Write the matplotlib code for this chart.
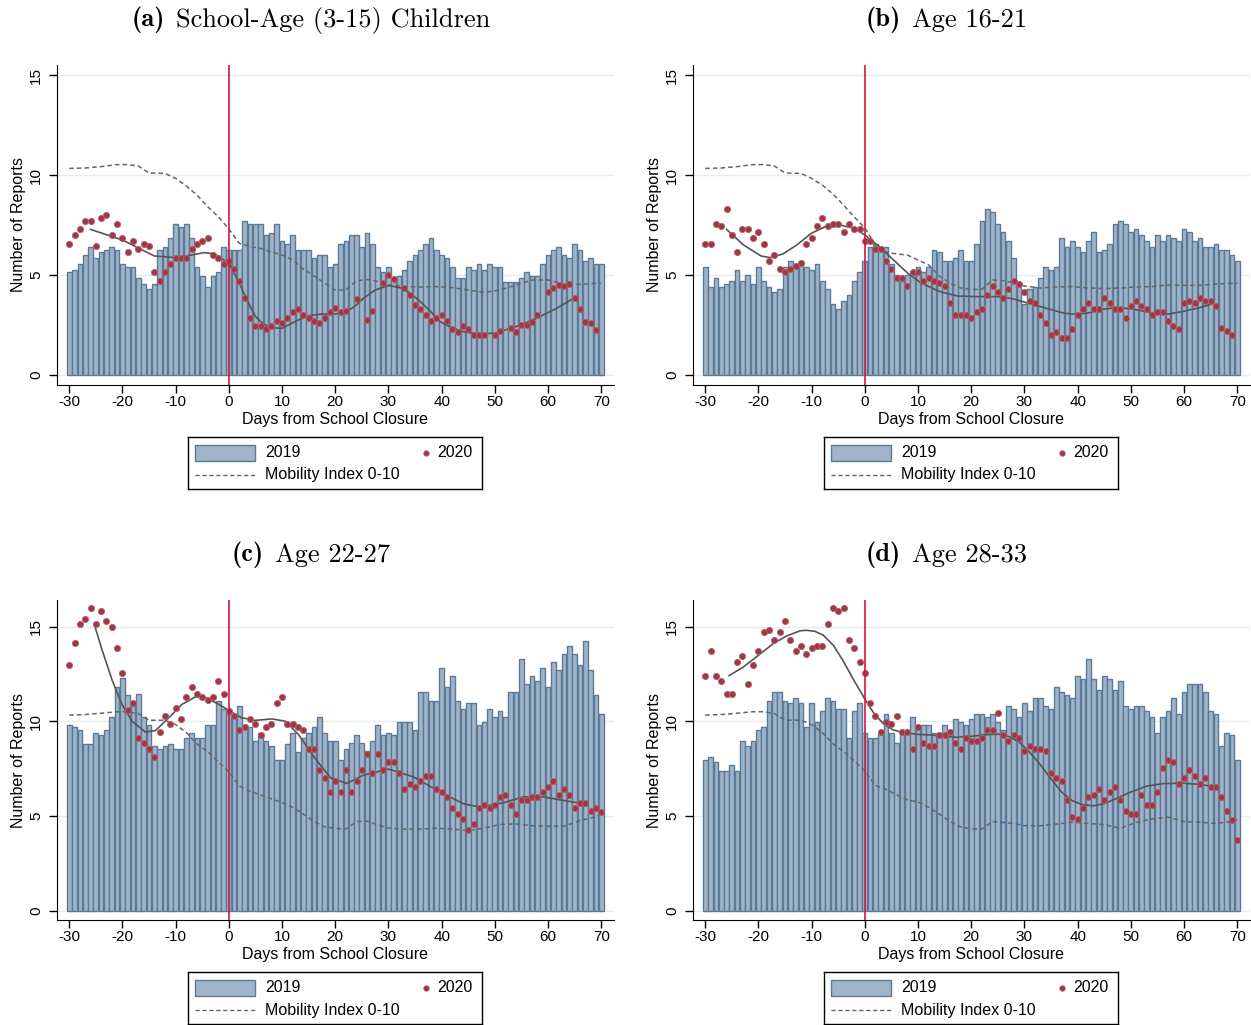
"""Reports by age group around school closure: 2019 bars, 2020 dots, smoothed 2020, mobility index."""
import matplotlib
matplotlib.use("Agg")
import matplotlib.pyplot as plt
import numpy as np
from matplotlib.patches import Rectangle

plt.rcParams["font.family"] = ["Liberation Sans", "DejaVu Sans"]
plt.rcParams["axes.unicode_minus"] = False

nan = np.nan
DAYS = np.arange(-30, 71)

# 2019 daily reports (bars), days -30..70
BARS_A = [5.13, 5.27, 5.53, 5.98, 6.4, 5.85, 6.13, 6.27, 6.4, 6.27,
          5.53, 5.4, 5.4, 4.85, 4.55, 4.28, 4.55, 6.27, 6.4, 6.83,
          7.55, 7.4, 7.55, 6.83, 5.4, 4.97, 4.4, 4.97, 5.13, 6.4,
          6.27, 6.27, 6.27, 7.68, 7.53, 7.53, 7.53, 6.98, 7.1, 7.53,
          6.68, 6.55, 6.98, 6.27, 6.27, 6.27, 5.85, 5.98, 5.98, 5.4,
          5.53, 6.53, 6.68, 6.98, 6.98, 6.4, 7.12, 6.53, 5.4, 5.13,
          5.4, 4.83, 4.97, 5.27, 5.68, 5.98, 6.27, 6.53, 6.83, 6.27,
          5.98, 5.83, 5.4, 4.83, 4.83, 5.4, 5.27, 5.53, 5.27, 5.53,
          5.4, 5.4, 4.67, 4.67, 4.67, 4.83, 5.13, 4.97, 4.97, 5.53,
          5.98, 6.27, 6.4, 5.98, 5.83, 6.53, 6.27, 5.68, 5.83, 5.53, 5.53]
BARS_B = [5.4, 4.4, 4.83, 4.4, 4.55, 4.68, 5.27, 4.68, 4.98, 4.55,
          5.4, 4.68, 4.4, 4.13, 4.28, 5.4, 5.68, 5.55, 5.68, 5.4,
          5.27, 5.55, 4.68, 4.28, 3.55, 3.28, 3.68, 3.98, 4.68, 5.13,
          5.68, 6.4, 6.55, 6.4, 6.4, 5.55, 4.98, 4.68, 4.98, 5.13,
          5.4, 5.13, 5.4, 6.27, 6.13, 5.68, 5.68, 5.83, 6.27, 5.68,
          5.68, 6.53, 7.68, 8.28, 8.13, 7.53, 7.13, 6.68, 5.83, 4.4,
          3.53, 4.28, 4.4, 4.85, 5.4, 5.27, 5.4, 6.83, 6.4, 6.68,
          6.4, 6.13, 6.68, 7.13, 6.13, 6.27, 6.53, 7.53, 7.68, 7.53,
          7.13, 7.28, 6.98, 6.68, 6.4, 6.98, 6.68, 6.98, 6.83, 6.68,
          7.28, 7.13, 6.68, 6.83, 6.4, 6.4, 6.53, 6.27, 6.27, 5.98, 5.68]
BARS_C = [9.8, 9.68, 9.54, 8.81, 8.81, 9.38, 9.25, 9.54, 10.23, 11.81,
          12.26, 11.39, 10.82, 11.41, 10.23, 9.8, 8.67, 8.54, 8.67, 8.81,
          8.52, 8.52, 9.09, 9.38, 9.09, 9.09, 9.8, 9.8, 11.09, 10.66,
          10.39, 10.39, 10.82, 9.8, 9.68, 8.95, 9.38, 8.95, 8.67, 7.97,
          7.97, 8.81, 9.38, 8.38, 9.11, 9.38, 9.68, 10.23, 9.38, 8.95,
          8.97, 7.97, 8.52, 8.83, 9.25, 8.83, 8.4, 8.95, 9.8, 9.25,
          9.38, 9.25, 9.96, 9.96, 9.96, 9.54, 11.53, 11.53, 11.09, 11.09,
          12.83, 11.81, 12.4, 11.09, 10.66, 10.96, 10.96, 9.8, 9.96, 10.66,
          10.23, 10.53, 10.23, 11.53, 11.53, 13.26, 11.96, 12.4, 12.1, 12.83,
          11.81, 13.11, 12.69, 13.54, 13.97, 13.54, 12.97, 14.23, 12.69, 11.39, 10.39]
BARS_D = [7.97, 8.1, 7.83, 7.38, 7.38, 7.67, 7.38, 8.95, 8.67, 8.95,
          9.54, 9.68, 11.09, 11.53, 11.53, 11.09, 10.96, 11.25, 10.96, 9.68,
          10.96, 9.96, 10.53, 11.25, 11.09, 10.66, 10.66, 9.09, 10.53, 10.96,
          9.38, 9.09, 9.09, 9.38, 10.39, 9.38, 8.83, 9.38, 9.38, 10.23,
          9.8, 9.8, 9.8, 9.38, 9.38, 9.8, 9.54, 10.11, 9.96, 9.8,
          10.11, 10.39, 10.39, 10.23, 10.39, 9.96, 9.54, 10.82, 10.66, 10.23,
          10.96, 10.53, 11.25, 11.25, 10.82, 10.66, 11.81, 11.53, 11.39, 11.25,
          12.4, 12.24, 13.26, 12.24, 11.67, 12.4, 12.24, 11.67, 12.1, 10.82,
          10.66, 10.82, 10.82, 10.53, 10.23, 9.38, 10.23, 10.53, 11.25, 10.39,
          11.53, 11.96, 11.96, 11.96, 11.53, 10.53, 10.39, 8.67, 9.38, 9.25, 7.97]

# 2020 daily reports (dots), days -30..70
DOTS_A = [6.57, 7.0, 7.28, 7.72, 7.72, 6.43, 7.87, 8.0, 7.0, 7.57,
          6.85, 6.15, 6.72, 6.28, 6.57, 6.43, 5.15, 4.72, 5.15, 5.57,
          5.87, 5.87, 5.87, 6.28, 6.57, 6.72, 6.85, 6.0, 5.87, 5.57,
          5.72, 5.28, 4.72, 3.87, 2.85, 2.43, 2.43, 2.28, 2.43, 2.72,
          2.58, 2.85, 3.13, 3.28, 3.0, 2.85, 2.72, 2.58, 2.85, 3.13,
          3.33, 3.17, 3.2, nan, 3.8, nan, 2.75, 3.2, nan, 4.6,
          5.0, 4.8, nan, 4.33, 4.0, 3.5, 3.28, 3.0, 2.72, 2.87,
          3.0, 2.72, 2.28, 2.13, 2.43, 2.28, 2.0, 2.0, 2.0, nan,
          2.0, 2.2, nan, 2.33, 2.17, 2.5, 2.5, 2.67, 3.0, nan,
          4.17, 4.33, 4.5, 4.43, 4.57, 3.87, 3.3, 2.67, 2.6, 2.25, nan]
DOTS_B = [6.57, 6.57, 7.57, 7.43, 8.28, 7.0, 6.15, 7.28, 7.28, 6.87,
          7.15, 6.57, 5.72, 6.0, 5.28, 5.15, 5.28, 5.43, 5.58, 6.57,
          6.85, 7.43, 7.85, 7.43, 7.57, 7.57, 7.15, 7.57, 7.28, 7.28,
          6.72, 6.72, 6.3, 6.3, 5.72, 5.28, 4.87, 4.87, 4.43, 5.15,
          5.15, 4.72, 4.87, 4.72, 4.58, 4.43, 3.58, 3.0, 3.0, 3.0,
          2.87, 3.15, 3.3, 4.0, 4.43, 4.13, 3.87, 4.28, 4.72, 4.57,
          4.13, 3.72, 3.58, 3.0, 2.58, 2.0, 2.15, 1.87, 1.87, 2.28,
          3.0, 3.3, 3.58, 3.3, 3.3, 3.87, 3.58, 3.3, 3.3, 2.87,
          3.45, 3.72, 3.45, 3.3, 3.0, 3.15, 3.15, 2.72, 2.43, 2.28,
          3.58, 3.72, 3.58, 3.87, 3.72, 3.72, 3.45, 2.33, 2.2, 2.0, nan]
DOTS_C = [12.97, 14.13, 15.12, 15.41, 15.98, 15.12, 15.84, 15.27, 14.98, 13.84,
          12.54, 10.57, 10.98, 9.11, 8.83, 8.54, 8.11, 9.41, 10.27, 9.84,
          10.69, 10.12, 11.26, 11.83, 11.41, 11.26, 11.12, 11.26, 12.12, 11.41,
          10.55, 10.27, 9.56, 9.7, 10.12, 9.84, 9.27, 9.7, 9.84, 10.98,
          11.26, 9.84, 9.84, 9.7, 9.56, 8.54, 8.54, 7.4, 6.98, 6.26,
          6.83, 6.26, 7.4, 6.26, 6.83, 7.4, 8.26, 7.26, 8.26, 7.4,
          7.83, 7.83, 7.26, 6.41, 6.69, 6.55, 6.83, 7.12, 7.12, 6.41,
          6.26, 5.98, 5.41, 5.12, 4.84, 4.27, 4.56, 5.41, 5.55, 5.41,
          5.55, 5.98, 6.12, 5.55, 5.12, 5.84, 5.84, 5.98, 5.98, 6.26,
          6.55, 6.83, 6.12, 6.41, 6.12, 5.41, 5.69, 5.69, 5.27, 5.41, 5.23]
DOTS_D = [12.4, 13.7, 12.4, 12.12, 11.41, 11.41, 13.11, 13.42, 11.98, 12.99,
          13.7, 14.7, 14.84, 14.27, 14.7, 15.27, 14.27, 13.7, 13.99, 13.56,
          13.84, 13.99, 13.99, 15.12, 15.98, 15.84, 15.98, 14.27, 13.84, 13.11,
          12.54, 10.98, 10.27, 9.41, 9.98, 9.84, 10.27, 9.41, 9.41, 8.54,
          9.7, 8.83, 8.68, 8.68, 9.27, 9.27, 9.41, 8.83, 8.54, 9.11,
          8.97, 8.97, 9.11, 9.56, 9.56, 10.41, 9.27, 8.97, 9.27, 9.11,
          8.4, 8.68, 8.54, 8.54, 8.4, 7.26, 6.98, 6.83, 5.82, 4.96,
          4.82, 5.41, 5.98, 6.12, 6.41, 5.84, 6.26, 6.55, 5.84, 5.27,
          5.12, 5.12, 6.12, 5.55, 5.55, 6.26, 7.54, 7.97, 7.83, 6.69,
          6.98, 7.4, 7.12, 6.69, 6.98, 6.55, 6.55, 5.98, 5.27, 4.77, 3.72]

# smoothed 2020 series
SM_A_DAYS = [-26, -20, -14, -10, -7, -4.6, -2.6, 0, 2, 3.5, 5, 6.5, 8, 10, 12.4, 15, 17.5,
             20, 22.2, 24, 25.3, 27.5, 30, 32.8, 34.5, 36, 38, 39.7, 42, 44, 47.2, 50.3,
             54, 57.8, 61.6, 65]
SM_A = [7.28, 6.75, 5.95, 5.87, 6.0, 6.12, 6.05, 5.58, 4.58, 3.7, 2.92, 2.55, 2.37, 2.33,
        2.67, 2.97, 3.05, 3.05, 3.17, 3.5, 3.83, 4.25, 4.47, 4.33, 4.0, 3.67, 3.15, 2.67,
        2.35, 2.17, 2.03, 2.12, 2.42, 2.83, 3.33, 3.87]
SM_B_DAYS = [-26, -22.8, -19.5, -17.8, -15.4, -12.8, -10.1, -7.4, -4.7, -2, 0, 2.7, 5.4,
             8.1, 10.7, 14.1, 17.4, 20.8, 24.8, 27.5, 30.9, 34.2, 37.6, 39.9, 42.3, 45,
             47.7, 50.3, 53.7, 57, 59.7, 62.4, 65.1]
SM_B = [7.28, 6.5, 5.95, 5.87, 6.05, 6.5, 7.08, 7.42, 7.5, 7.33, 7.0, 6.42, 5.75, 5.08,
        4.58, 4.17, 3.95, 3.92, 3.92, 3.83, 3.58, 3.33, 3.08, 3.03, 3.12, 3.3, 3.37, 3.3,
        3.12, 3.05, 3.17, 3.33, 3.53]
SM_C_DAYS = [-25.3, -23.8, -21.9, -20.1, -18.2, -15.7, -13.8, -11.3, -8.8, -6.3, -4.4, -1.9,
             0, 2.4, 4.9, 8.1, 10.6, 13.1, 16.2, 19.1, 22.2, 25.3, 30, 34.7, 39.7, 44.1,
             47.2, 51.6, 55.3, 59.1, 62.8, 66.6]
SM_C = [15.12, 13.74, 12.14, 10.89, 10.0, 9.43, 9.5, 10.18, 10.89, 11.28, 11.25, 10.89,
        10.57, 10.18, 10.04, 10.12, 10.0, 9.29, 8.04, 7.01, 6.71, 7.15, 7.47, 7.06, 6.26,
        5.64, 5.46, 5.69, 6.0, 6.0, 5.82, 5.64]
SM_D_DAYS = [-25.5, -22.9, -20, -17.2, -14.7, -12.2, -11, -9.4, -7.8, -5.9, -4.1, -2.2, 0,
             1.6, 3.4, 5.3, 7.2, 9.7, 12.8, 17.2, 20, 22.5, 25, 27, 29, 31, 33, 35, 37, 39,
             41, 43, 45, 47, 50, 53, 56, 59.4, 62.5, 65]
SM_D = [12.41, 12.85, 13.48, 14.1, 14.5, 14.77, 14.8, 14.75, 14.54, 14.0, 13.2, 12.23,
        11.17, 10.46, 9.89, 9.54, 9.4, 9.31, 9.26, 9.15, 9.2, 9.28, 9.32, 9.2, 8.9, 8.35,
        7.7, 6.95, 6.25, 5.8, 5.58, 5.53, 5.65, 5.88, 6.26, 6.57, 6.7, 6.73, 6.67, 6.58]

# mobility index 0-10
MOB_DAYS = [-30, -27, -24, -21, -19, -17, -15, -12, -10, -8, -6, -4, -2, 0, 2, 4, 6, 8,
            10, 12, 14, 16, 18, 20, 22, 24, 26, 28, 30, 33, 36, 39, 42, 45, 48, 51,
            54, 57, 60, 63, 66, 69, 70]
MOB_A = [10.33, 10.35, 10.42, 10.52, 10.52, 10.45, 10.1, 10.08, 9.83, 9.45, 9.0, 8.42,
         7.92, 7.3, 6.58, 6.42, 6.33, 6.15, 6.0, 5.75, 5.3, 4.95, 4.6, 4.25, 4.25, 4.72,
         4.77, 4.68, 4.5, 4.42, 4.4, 4.42, 4.37, 4.25, 4.13, 4.25, 4.5, 4.75, 4.75, 4.55,
         4.53, 4.58, 4.58]
MOB_B = [10.33, 10.35, 10.42, 10.52, 10.52, 10.45, 10.1, 10.08, 9.83, 9.5, 9.05, 8.5,
         7.9, 7.35, 6.5, 6.15, 6.05, 6.0, 5.75, 5.5, 4.95, 4.6, 4.35, 4.28, 4.28, 4.75,
         4.72, 4.6, 4.45, 4.35, 4.4, 4.42, 4.35, 4.32, 4.35, 4.4, 4.42, 4.5, 4.48, 4.48,
         4.55, 4.58, 4.58]
MOB_C = [10.32, 10.35, 10.42, 10.5, 10.5, 10.4, 10.05, 10.05, 9.82, 9.4, 8.8, 8.4,
         7.86, 7.33, 6.57, 6.3, 6.1, 5.9, 5.7, 5.45, 5.1, 4.7, 4.42, 4.34, 4.3, 4.7,
         4.72, 4.52, 4.36, 4.3, 4.3, 4.35, 4.3, 4.22, 4.35, 4.55, 4.57, 4.48, 4.45, 4.45,
         4.75, 4.95, 5.1]
MOB_D = [10.32, 10.35, 10.42, 10.5, 10.5, 10.4, 10.05, 10.05, 9.82, 9.4, 8.8, 8.4,
         7.9, 7.38, 6.6, 6.4, 6.1, 5.85, 5.73, 5.45, 5.1, 4.7, 4.42, 4.3, 4.3, 4.7,
         4.65, 4.6, 4.48, 4.48, 4.57, 4.66, 4.6, 4.54, 4.34, 4.66, 4.84, 4.93, 4.7, 4.66,
         4.6, 4.7, 4.8]

TITLES = [("(a)", "School-Age (3-15) Children"), ("(b)", "Age 16-21"),
          ("(c)", "Age 22-27"), ("(d)", "Age 28-33")]

BAR_FILL = "#a1b3c6"
BAR_EDGE = "#5a7a9a"
DOT = "#9c3947"
DOT_EDGE = "#b9606c"
CLOSE = "#d3163f"
GRID = "#e4edf0"
W, H = 1251, 1025


def panel(ax, bars, dots, sm_days, sm, mob, ytop):
    ax.bar(DAYS, bars, width=0.88, color=BAR_FILL, edgecolor=BAR_EDGE, linewidth=1.0, zorder=2)
    ax.plot(MOB_DAYS, mob, ls=(0, (3, 2)), color="#666666", lw=1.1, zorder=3)
    ax.plot(sm_days, sm, color="#555555", lw=1.2, zorder=4, solid_joinstyle="round")
    ax.scatter(DAYS, dots, s=20, color=DOT, edgecolors=DOT_EDGE, linewidths=0.6, zorder=5)
    ax.axvline(0, color=CLOSE, lw=1.2, zorder=6)
    for g in [0, 5, 10, 15]:
        ax.axhline(g, color=GRID, lw=1.0, zorder=0)
    ax.set_xlim(-32.3, 72.4)
    ax.set_ylim(-0.5, ytop)
    ax.set_xticks(range(-30, 71, 10))
    ax.set_yticks([0, 5, 10, 15])
    ax.tick_params(axis="both", length=6, width=1, labelsize=11, direction="out")
    ax.tick_params(axis="x", pad=1.5)
    ax.tick_params(axis="y", labelrotation=90, pad=4)
    for lab in ax.get_yticklabels():
        lab.set_va("center")
    for s in ["top", "right"]:
        ax.spines[s].set_visible(False)
    ax.set_xlabel("Days from School Closure", fontsize=11.5)
    ax.xaxis.set_label_coords(0.5, -0.083)
    ax.set_ylabel("Number of Reports", fontsize=11.5)
    ax.yaxis.set_label_coords(-0.056, 0.5)


def legend_box(fig, x0, y0):
    lax = fig.add_axes([x0 / W, 1 - (y0 + 52) / H, 294 / W, 52 / H])
    lax.set_xlim(0, 294)
    lax.set_ylim(52, 0)
    lax.set_xticks([])
    lax.set_yticks([])
    for s in lax.spines.values():
        s.set_linewidth(1.0)
    lax.add_patch(Rectangle((7, 8), 60, 16, fc=BAR_FILL, ec=BAR_EDGE, lw=1.0))
    lax.text(77, 16, "2019", va="center", fontsize=11.5)
    lax.plot([238], [16], "o", ms=4, color=DOT, mec=DOT_EDGE, mew=0.5)
    lax.text(249, 16, "2020", va="center", fontsize=11.5)
    lax.plot([7, 67], [38, 38], ls=(0, (3, 2)), color="#666666", lw=1.0)
    lax.text(77, 38, "Mobility Index 0-10", va="center", fontsize=11.5)


fig = plt.figure(figsize=(W / 100, H / 100), dpi=100)
specs = [(57, 65, BARS_A, DOTS_A, SM_A_DAYS, SM_A, MOB_A, 15.5),
         (693, 65, BARS_B, DOTS_B, SM_B_DAYS, SM_B, MOB_B, 15.5),
         (57, 600, BARS_C, DOTS_C, SM_C_DAYS, SM_C, MOB_C, 16.4),
         (693, 600, BARS_D, DOTS_D, SM_D_DAYS, SM_D, MOB_D, 16.4)]
title_x = [132, 866, 232, 866]
for i, (x0, y0, bars, dots, sm_days, sm, mob, ytop) in enumerate(specs):
    ax = fig.add_axes([x0 / W, 1 - (y0 + 320) / H, 557 / W, 320 / H])
    panel(ax, bars, dots, sm_days, sm, mob, ytop)
    legend_box(fig, x0 + 131, y0 + 372)
    t = fig.text(title_x[i] / W, 1 - (y0 - 45) / H, TITLES[i][0], family="cmb10",
                 fontsize=19, va="center", ha="left")
    ax.annotate(TITLES[i][1], xy=(1, 0.5), xycoords=t, xytext=(8, 0), textcoords="offset points",
                family="cmr10", fontsize=19, va="center", ha="left", annotation_clip=False)

fig.savefig("out.png", dpi=100)
